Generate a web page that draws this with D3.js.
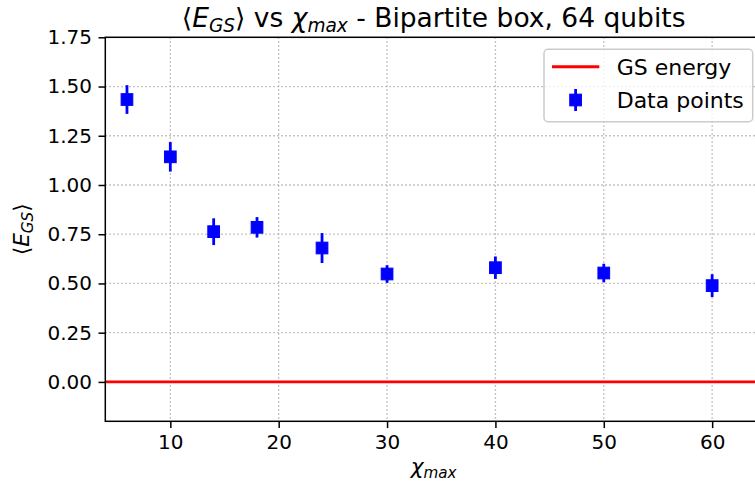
<!DOCTYPE html>
<html>
<head>
<meta charset="utf-8">
<script src="https://cdn.jsdelivr.net/npm/d3@7"></script>
<style>
  html, body { margin: 0; padding: 0; background: #fff; }
  svg { display: block; font-family: "DejaVu Sans", sans-serif; }
</style>
</head>
<body>
<svg id="chart" width="755" height="493"></svg>
<script>
// Bond dimension values and measured ground-state energy estimates
const chiMax = [6, 10, 14, 18, 24, 30, 40, 50, 60];
const energyMean = [1.434, 1.143, 0.763, 0.785, 0.680, 0.548, 0.580, 0.553, 0.489];
const energyErr = [0.073, 0.075, 0.068, 0.052, 0.076, 0.045, 0.057, 0.047, 0.058];
const gsEnergy = 0.0;

const xTicks = [10, 20, 30, 40, 50, 60];
const yTicks = [0, 0.25, 0.5, 0.75, 1.0, 1.25, 1.5, 1.75];
const xDomain = [4, 64.6];
const yDomain = [-0.2, 1.75];

const plot = { left: 105.3, right: 762, top: 37.3, bottom: 421.3 };
const tickPx = 20;
const labelPx = 21.7;
const legendPx = 22;
const titlePx = 26.5;

const svg = d3.select("#chart");

const x = d3.scaleLinear().domain(xDomain).range([plot.left, plot.right]);
const y = d3.scaleLinear().domain(yDomain).range([plot.bottom, plot.top]);

// Grid lines (dotted)
const grid = svg.append("g");
grid.selectAll("line.gx").data(xTicks).join("line")
  .attr("x1", d => x(d)).attr("x2", d => x(d))
  .attr("y1", plot.top).attr("y2", plot.bottom)
  .attr("stroke", "#b0b0b0").attr("stroke-width", 1.3)
  .attr("stroke-dasharray", "1.5,2.5");
grid.selectAll("line.gy").data(yTicks).join("line")
  .attr("x1", plot.left).attr("x2", plot.right)
  .attr("y1", d => y(d)).attr("y2", d => y(d))
  .attr("stroke", "#b0b0b0").attr("stroke-width", 1.3)
  .attr("stroke-dasharray", "1.5,2.5");

// Ground-state reference line
svg.append("line")
  .attr("x1", plot.left).attr("x2", plot.right)
  .attr("y1", y(gsEnergy)).attr("y2", y(gsEnergy))
  .attr("stroke", "#ff0000").attr("stroke-width", 2.9);

// Error bars and square markers
const pts = chiMax.map((c, i) => ({ c, m: energyMean[i], e: energyErr[i] }));
const marks = svg.append("g");
marks.selectAll("line.err").data(pts).join("line")
  .attr("x1", d => x(d.c)).attr("x2", d => x(d.c))
  .attr("y1", d => y(d.m - d.e)).attr("y2", d => y(d.m + d.e))
  .attr("stroke", "#0000ff").attr("stroke-width", 2.8);
const ms = 11.7;
marks.selectAll("rect.pt").data(pts).join("rect")
  .attr("x", d => x(d.c) - ms / 2).attr("y", d => y(d.m) - ms / 2)
  .attr("width", ms).attr("height", ms)
  .attr("fill", "#0000ff").attr("stroke", "#0000ff").attr("stroke-width", 1);

// Axes
const xAxis = d3.axisBottom(x).tickValues(xTicks).tickFormat(d3.format("d"))
  .tickSizeInner(6.8).tickSizeOuter(0).tickPadding(6.5);
const yAxis = d3.axisLeft(y).tickValues(yTicks).tickFormat(d3.format(".2f"))
  .tickSizeInner(6.8).tickSizeOuter(0).tickPadding(6.5);

const gx = svg.append("g").attr("transform", `translate(0,${plot.bottom})`).call(xAxis);
const gy = svg.append("g").attr("transform", `translate(${plot.left},0)`).call(yAxis);
[gx, gy].forEach(g => {
  g.select(".domain").remove();
  g.selectAll(".tick line").attr("stroke", "#000").attr("stroke-width", 1.5);
  g.selectAll(".tick text").attr("fill", "#000")
    .style("font-family", "DejaVu Sans").style("font-size", tickPx + "px");
});

// Frame
svg.append("rect")
  .attr("x", plot.left).attr("y", plot.top)
  .attr("width", plot.right - plot.left).attr("height", plot.bottom - plot.top)
  .attr("fill", "none").attr("stroke", "#000").attr("stroke-width", 1.5);

// Helper for math-style labels: parts of [text, italic, subscript]
function mathText(sel, parts, size) {
  let prevSub = false;
  parts.forEach(([t, it, sub]) => {
    const ts = sel.append("tspan").text(t);
    if (it) ts.style("font-style", "italic");
    if (sub) {
      ts.style("font-size", (size * 0.7) + "px");
      if (!prevSub) ts.attr("dy", size * 0.2);
    } else if (prevSub) {
      ts.attr("dy", -size * 0.2);
    }
    prevSub = !!sub;
  });
}

// Title
const title = svg.append("text")
  .attr("x", (plot.left + plot.right) / 2).attr("y", 27)
  .attr("text-anchor", "middle")
  .style("font-size", titlePx + "px").attr("fill", "#000");
mathText(title, [["\u27E8", false, false], ["E", true, false], ["GS", true, true],
  ["\u27E9 vs ", false, false], ["\u03C7", true, false], ["max", true, true],
  [" - Bipartite box, 64 qubits", false, false]], titlePx);

// X label
const xl = svg.append("text")
  .attr("x", (plot.left + plot.right) / 2).attr("y", 474)
  .attr("text-anchor", "middle")
  .style("font-size", labelPx + "px").attr("fill", "#000");
mathText(xl, [["\u03C7", true, false], ["max", true, true]], labelPx);

// Y label
const yl = svg.append("text")
  .attr("transform", `translate(29,${(plot.top + plot.bottom) / 2}) rotate(-90)`)
  .attr("text-anchor", "middle")
  .style("font-size", labelPx + "px").attr("fill", "#000");
mathText(yl, [["\u27E8", false, false], ["E", true, false], ["GS", true, true],
  ["\u27E9", false, false]], labelPx);

// Legend
const lg = svg.append("g");
lg.append("rect")
  .attr("x", 544).attr("y", 49.3).attr("width", 208.7).attr("height", 72.4)
  .attr("rx", 4).attr("fill", "#fff").attr("fill-opacity", 0.8)
  .attr("stroke", "#cccccc").attr("stroke-width", 1.5);
lg.append("line").attr("x1", 552).attr("x2", 599.3).attr("y1", 66.7).attr("y2", 66.7)
  .attr("stroke", "#ff0000").attr("stroke-width", 2.9);
lg.append("line").attr("x1", 575.6).attr("x2", 575.6).attr("y1", 89).attr("y2", 111)
  .attr("stroke", "#0000ff").attr("stroke-width", 2.8);
lg.append("rect").attr("x", 575.6 - ms / 2).attr("y", 100 - ms / 2)
  .attr("width", ms).attr("height", ms)
  .attr("fill", "#0000ff").attr("stroke", "#0000ff").attr("stroke-width", 1);
const legendLabels = ["GS energy", "Data points"];
lg.selectAll("text").data(legendLabels).join("text")
  .attr("x", 616.7).attr("y", (d, i) => 74.6 + i * 33.3)
  .style("font-size", legendPx + "px").attr("fill", "#000")
  .text(d => d);
</script>
</body>
</html>
